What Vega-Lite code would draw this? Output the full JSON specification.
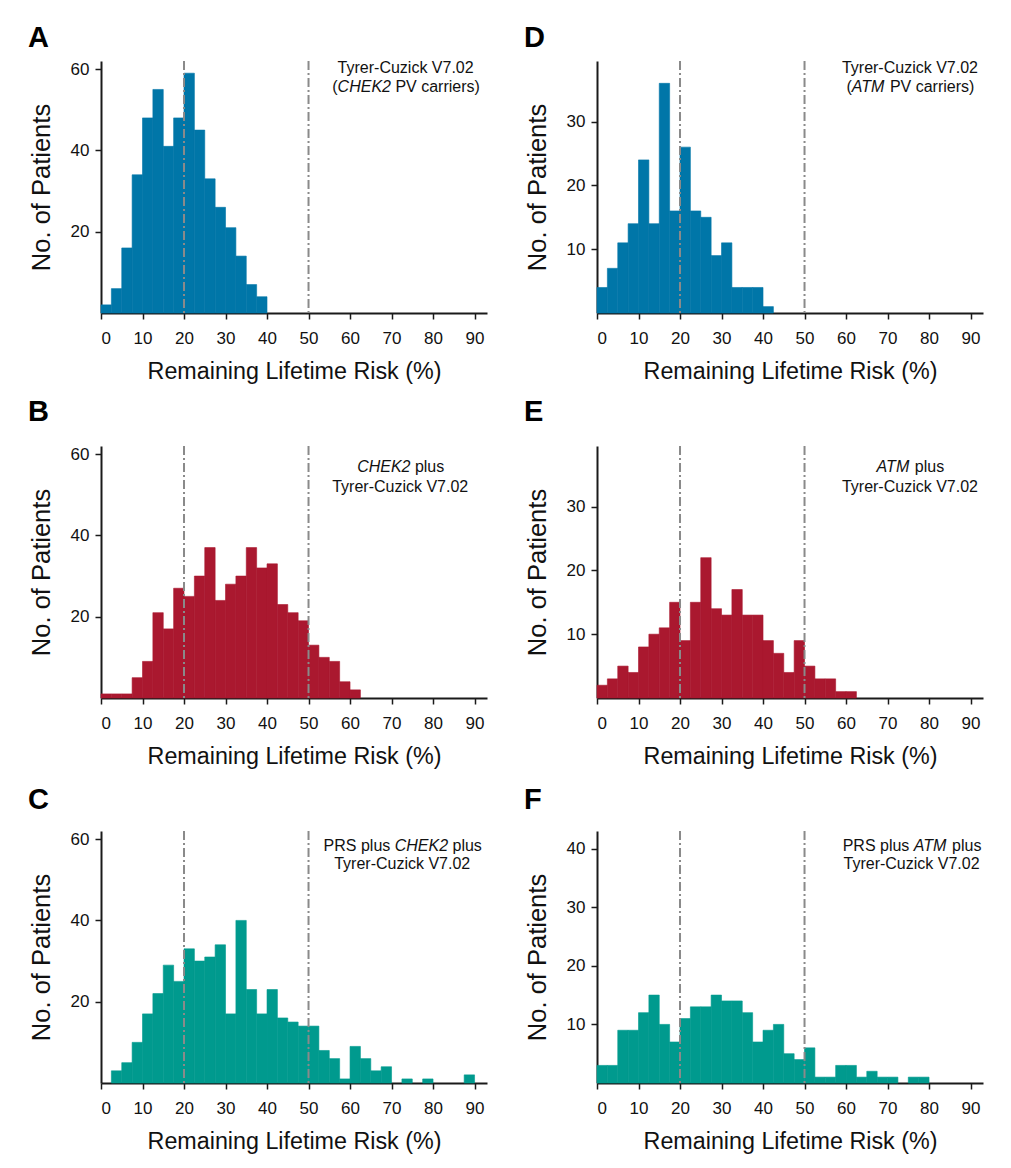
{
  "$schema": "https://vega.github.io/schema/vega-lite/v6.json",
  "padding": {"left": 28, "top": 23, "right": 5, "bottom": 5},
  "background": "white",
  "datasets": {
    "A": [
      {"lo": 0, "hi": 2.5, "n": 2}, {"lo": 2.5, "hi": 5, "n": 6}, {"lo": 5, "hi": 7.5, "n": 16}, {"lo": 7.5, "hi": 10, "n": 34},
      {"lo": 10, "hi": 12.5, "n": 48}, {"lo": 12.5, "hi": 15, "n": 55}, {"lo": 15, "hi": 17.5, "n": 41}, {"lo": 17.5, "hi": 20, "n": 48},
      {"lo": 20, "hi": 22.5, "n": 59}, {"lo": 22.5, "hi": 25, "n": 45}, {"lo": 25, "hi": 27.5, "n": 33}, {"lo": 27.5, "hi": 30, "n": 26},
      {"lo": 30, "hi": 32.5, "n": 21}, {"lo": 32.5, "hi": 35, "n": 14}, {"lo": 35, "hi": 37.5, "n": 7}, {"lo": 37.5, "hi": 40, "n": 4}
    ],
    "D": [
      {"lo": 0, "hi": 2.5, "n": 4}, {"lo": 2.5, "hi": 5, "n": 7}, {"lo": 5, "hi": 7.5, "n": 11}, {"lo": 7.5, "hi": 10, "n": 14},
      {"lo": 10, "hi": 12.5, "n": 24}, {"lo": 12.5, "hi": 15, "n": 14}, {"lo": 15, "hi": 17.5, "n": 36}, {"lo": 17.5, "hi": 20, "n": 16},
      {"lo": 20, "hi": 22.5, "n": 26}, {"lo": 22.5, "hi": 25, "n": 16}, {"lo": 25, "hi": 27.5, "n": 15}, {"lo": 27.5, "hi": 30, "n": 9},
      {"lo": 30, "hi": 32.5, "n": 11}, {"lo": 32.5, "hi": 35, "n": 4}, {"lo": 35, "hi": 37.5, "n": 4}, {"lo": 37.5, "hi": 40, "n": 4},
      {"lo": 40, "hi": 42.5, "n": 1}
    ],
    "B": [
      {"lo": 0, "hi": 2.5, "n": 1}, {"lo": 2.5, "hi": 5, "n": 1}, {"lo": 5, "hi": 7.5, "n": 1}, {"lo": 7.5, "hi": 10, "n": 5},
      {"lo": 10, "hi": 12.5, "n": 9}, {"lo": 12.5, "hi": 15, "n": 21}, {"lo": 15, "hi": 17.5, "n": 17}, {"lo": 17.5, "hi": 20, "n": 27},
      {"lo": 20, "hi": 22.5, "n": 25}, {"lo": 22.5, "hi": 25, "n": 30}, {"lo": 25, "hi": 27.5, "n": 37}, {"lo": 27.5, "hi": 30, "n": 24},
      {"lo": 30, "hi": 32.5, "n": 28}, {"lo": 32.5, "hi": 35, "n": 30}, {"lo": 35, "hi": 37.5, "n": 37}, {"lo": 37.5, "hi": 40, "n": 32},
      {"lo": 40, "hi": 42.5, "n": 33}, {"lo": 42.5, "hi": 45, "n": 23}, {"lo": 45, "hi": 47.5, "n": 21}, {"lo": 47.5, "hi": 50, "n": 19},
      {"lo": 50, "hi": 52.5, "n": 13}, {"lo": 52.5, "hi": 55, "n": 10}, {"lo": 55, "hi": 57.5, "n": 9}, {"lo": 57.5, "hi": 60, "n": 4},
      {"lo": 60, "hi": 62.5, "n": 2}
    ],
    "E": [
      {"lo": 0, "hi": 2.5, "n": 2}, {"lo": 2.5, "hi": 5, "n": 3}, {"lo": 5, "hi": 7.5, "n": 5}, {"lo": 7.5, "hi": 10, "n": 4},
      {"lo": 10, "hi": 12.5, "n": 8}, {"lo": 12.5, "hi": 15, "n": 10}, {"lo": 15, "hi": 17.5, "n": 11}, {"lo": 17.5, "hi": 20, "n": 15},
      {"lo": 20, "hi": 22.5, "n": 9}, {"lo": 22.5, "hi": 25, "n": 15}, {"lo": 25, "hi": 27.5, "n": 22}, {"lo": 27.5, "hi": 30, "n": 14},
      {"lo": 30, "hi": 32.5, "n": 13}, {"lo": 32.5, "hi": 35, "n": 17}, {"lo": 35, "hi": 37.5, "n": 13}, {"lo": 37.5, "hi": 40, "n": 13},
      {"lo": 40, "hi": 42.5, "n": 9}, {"lo": 42.5, "hi": 45, "n": 7}, {"lo": 45, "hi": 47.5, "n": 4}, {"lo": 47.5, "hi": 50, "n": 9},
      {"lo": 50, "hi": 52.5, "n": 5}, {"lo": 52.5, "hi": 55, "n": 3}, {"lo": 55, "hi": 57.5, "n": 3}, {"lo": 57.5, "hi": 60, "n": 1},
      {"lo": 60, "hi": 62.5, "n": 1}
    ],
    "C": [
      {"lo": 2.5, "hi": 5, "n": 3}, {"lo": 5, "hi": 7.5, "n": 5}, {"lo": 7.5, "hi": 10, "n": 10},
      {"lo": 10, "hi": 12.5, "n": 17}, {"lo": 12.5, "hi": 15, "n": 22}, {"lo": 15, "hi": 17.5, "n": 29}, {"lo": 17.5, "hi": 20, "n": 25},
      {"lo": 20, "hi": 22.5, "n": 33}, {"lo": 22.5, "hi": 25, "n": 30}, {"lo": 25, "hi": 27.5, "n": 31}, {"lo": 27.5, "hi": 30, "n": 34},
      {"lo": 30, "hi": 32.5, "n": 17}, {"lo": 32.5, "hi": 35, "n": 40}, {"lo": 35, "hi": 37.5, "n": 23}, {"lo": 37.5, "hi": 40, "n": 17},
      {"lo": 40, "hi": 42.5, "n": 23}, {"lo": 42.5, "hi": 45, "n": 16}, {"lo": 45, "hi": 47.5, "n": 15}, {"lo": 47.5, "hi": 50, "n": 14},
      {"lo": 50, "hi": 52.5, "n": 14}, {"lo": 52.5, "hi": 55, "n": 8}, {"lo": 55, "hi": 57.5, "n": 6}, {"lo": 57.5, "hi": 60, "n": 1},
      {"lo": 60, "hi": 62.5, "n": 9}, {"lo": 62.5, "hi": 65, "n": 6}, {"lo": 65, "hi": 67.5, "n": 3}, {"lo": 67.5, "hi": 70, "n": 4},
      {"lo": 72.5, "hi": 75, "n": 1}, {"lo": 77.5, "hi": 80, "n": 1}, {"lo": 87.5, "hi": 90, "n": 2}
    ],
    "F": [
      {"lo": 0, "hi": 2.5, "n": 3}, {"lo": 2.5, "hi": 5, "n": 3}, {"lo": 5, "hi": 7.5, "n": 9}, {"lo": 7.5, "hi": 10, "n": 9},
      {"lo": 10, "hi": 12.5, "n": 12}, {"lo": 12.5, "hi": 15, "n": 15}, {"lo": 15, "hi": 17.5, "n": 10}, {"lo": 17.5, "hi": 20, "n": 7},
      {"lo": 20, "hi": 22.5, "n": 11}, {"lo": 22.5, "hi": 25, "n": 13}, {"lo": 25, "hi": 27.5, "n": 13}, {"lo": 27.5, "hi": 30, "n": 15},
      {"lo": 30, "hi": 32.5, "n": 14}, {"lo": 32.5, "hi": 35, "n": 14}, {"lo": 35, "hi": 37.5, "n": 12}, {"lo": 37.5, "hi": 40, "n": 7},
      {"lo": 40, "hi": 42.5, "n": 9}, {"lo": 42.5, "hi": 45, "n": 10}, {"lo": 45, "hi": 47.5, "n": 5}, {"lo": 47.5, "hi": 50, "n": 4},
      {"lo": 50, "hi": 52.5, "n": 6}, {"lo": 52.5, "hi": 55, "n": 1}, {"lo": 55, "hi": 57.5, "n": 1}, {"lo": 57.5, "hi": 60, "n": 3},
      {"lo": 60, "hi": 62.5, "n": 3}, {"lo": 62.5, "hi": 65, "n": 1}, {"lo": 65, "hi": 67.5, "n": 2}, {"lo": 67.5, "hi": 70, "n": 1},
      {"lo": 70, "hi": 72.5, "n": 1}, {"lo": 75, "hi": 77.5, "n": 1}, {"lo": 77.5, "hi": 80, "n": 1}
    ],
    "cut": [{"v": 20}, {"v": 50}],
    "A_t": [{"x": 57.01, "y": 60.3, "t": "Tyrer-Cuzick V7.02"}, {"x": 55.73, "y": 55.6, "t": "("}, {"x": 70.93, "y": 55.6, "t": "PV carriers)"}],
    "A_i": [{"x": 57.01, "y": 55.6, "t": "CHEK2"}],
    "B_t": [{"x": 75.63, "y": 56.8, "t": "plus"}, {"x": 55.71, "y": 51.9, "t": "Tyrer-Cuzick V7.02"}],
    "B_i": [{"x": 61.71, "y": 56.8, "t": "CHEK2"}],
    "C_t": [{"x": 53.63, "y": 58.3, "t": "PRS plus"}, {"x": 84.69, "y": 58.3, "t": "plus"}, {"x": 56.19, "y": 53.9, "t": "Tyrer-Cuzick V7.02"}],
    "C_i": [{"x": 70.77, "y": 58.3, "t": "CHEK2"}],
    "D_t": [{"x": 59.01, "y": 38.4, "t": "Tyrer-Cuzick V7.02"}, {"x": 60.09, "y": 35.4, "t": "("}, {"x": 70.57, "y": 35.4, "t": "PV carriers)"}],
    "D_i": [{"x": 61.37, "y": 35.4, "t": "ATM"}],
    "E_t": [{"x": 76.58, "y": 36.2, "t": "plus"}, {"x": 59.01, "y": 33.1, "t": "Tyrer-Cuzick V7.02"}],
    "E_i": [{"x": 67.37, "y": 36.2, "t": "ATM"}],
    "F_t": [{"x": 59.19, "y": 40.4, "t": "PRS plus"}, {"x": 85.54, "y": 40.4, "t": "plus"}, {"x": 59.40, "y": 37.4, "t": "Tyrer-Cuzick V7.02"}],
    "F_i": [{"x": 76.34, "y": 40.4, "t": "ATM"}]
  },
  "spacing": 15,
  "vconcat": [
    {
      "spacing": 37,
      "hconcat": [
        {
          "width": 386, "height": 252, "title": {"text": "A", "offset": 7},
          "layer": [
            {"data": {"name": "A"}, "mark": {"type": "bar", "color": "#0076A8", "stroke": "#0076A8", "strokeWidth": 0.6, "opacity": 1},
             "encoding": {
               "x": {"field": "lo", "type": "quantitative", "scale": {"domain": [0, 93], "nice": false}, "axis": {"values": [0,10,20,30,40,50,60,70,80,90], "title": "Remaining Lifetime Risk (%)"}},
               "x2": {"field": "hi"},
               "y": {"field": "n", "type": "quantitative", "scale": {"domain": [0, 62], "nice": false}, "axis": {"values": [20,40,60], "title": "No. of Patients"}},
               "y2": {"datum": 0}}},
            {"data": {"name": "cut"}, "mark": {"type": "rule", "color": "#8a8a8a", "strokeWidth": 2, "strokeDash": [9,3,2,3]}, "encoding": {"x": {"field": "v", "type": "quantitative"}}},
            {"data": {"name": "A_t"}, "mark": {"type": "text", "align": "left", "baseline": "middle"}, "encoding": {"x": {"field": "x", "type": "quantitative"}, "y": {"field": "y", "type": "quantitative"}, "text": {"field": "t"}}},
            {"data": {"name": "A_i"}, "mark": {"type": "text", "align": "left", "baseline": "middle", "fontStyle": "italic"}, "encoding": {"x": {"field": "x", "type": "quantitative"}, "y": {"field": "y", "type": "quantitative"}, "text": {"field": "t"}}}
          ]
        },
        {
          "width": 386, "height": 252, "title": {"text": "D", "offset": 7},
          "layer": [
            {"data": {"name": "D"}, "mark": {"type": "bar", "color": "#0076A8", "stroke": "#0076A8", "strokeWidth": 0.6, "opacity": 1},
             "encoding": {
               "x": {"field": "lo", "type": "quantitative", "scale": {"domain": [0, 93], "nice": false}, "axis": {"values": [0,10,20,30,40,50,60,70,80,90], "title": "Remaining Lifetime Risk (%)"}},
               "x2": {"field": "hi"},
               "y": {"field": "n", "type": "quantitative", "scale": {"domain": [0, 39.5], "nice": false}, "axis": {"values": [10,20,30], "title": "No. of Patients"}},
               "y2": {"datum": 0}}},
            {"data": {"name": "cut"}, "mark": {"type": "rule", "color": "#8a8a8a", "strokeWidth": 2, "strokeDash": [9,3,2,3]}, "encoding": {"x": {"field": "v", "type": "quantitative"}}},
            {"data": {"name": "D_t"}, "mark": {"type": "text", "align": "left", "baseline": "middle"}, "encoding": {"x": {"field": "x", "type": "quantitative"}, "y": {"field": "y", "type": "quantitative"}, "text": {"field": "t"}}},
            {"data": {"name": "D_i"}, "mark": {"type": "text", "align": "left", "baseline": "middle", "fontStyle": "italic"}, "encoding": {"x": {"field": "x", "type": "quantitative"}, "y": {"field": "y", "type": "quantitative"}, "text": {"field": "t"}}}
          ]
        }
      ]
    },
    {
      "spacing": 18,
      "vconcat": [
        {
          "spacing": 37,
          "hconcat": [
            {
              "width": 386, "height": 252, "title": {"text": "B", "offset": 18},
              "layer": [
                {"data": {"name": "B"}, "mark": {"type": "bar", "color": "#AA182F", "stroke": "#AA182F", "strokeWidth": 0.6, "opacity": 1},
                 "encoding": {
                   "x": {"field": "lo", "type": "quantitative", "scale": {"domain": [0, 93], "nice": false}, "axis": {"values": [0,10,20,30,40,50,60,70,80,90], "title": "Remaining Lifetime Risk (%)"}},
                   "x2": {"field": "hi"},
                   "y": {"field": "n", "type": "quantitative", "scale": {"domain": [0, 62], "nice": false}, "axis": {"values": [20,40,60], "title": "No. of Patients"}},
                   "y2": {"datum": 0}}},
                {"data": {"name": "cut"}, "mark": {"type": "rule", "color": "#8a8a8a", "strokeWidth": 2, "strokeDash": [9,3,2,3]}, "encoding": {"x": {"field": "v", "type": "quantitative"}}},
                {"data": {"name": "B_t"}, "mark": {"type": "text", "align": "left", "baseline": "middle"}, "encoding": {"x": {"field": "x", "type": "quantitative"}, "y": {"field": "y", "type": "quantitative"}, "text": {"field": "t"}}},
                {"data": {"name": "B_i"}, "mark": {"type": "text", "align": "left", "baseline": "middle", "fontStyle": "italic"}, "encoding": {"x": {"field": "x", "type": "quantitative"}, "y": {"field": "y", "type": "quantitative"}, "text": {"field": "t"}}}
              ]
            },
            {
              "width": 386, "height": 252, "title": {"text": "E", "offset": 18},
              "layer": [
                {"data": {"name": "E"}, "mark": {"type": "bar", "color": "#AA182F", "stroke": "#AA182F", "strokeWidth": 0.6, "opacity": 1},
                 "encoding": {
                   "x": {"field": "lo", "type": "quantitative", "scale": {"domain": [0, 93], "nice": false}, "axis": {"values": [0,10,20,30,40,50,60,70,80,90], "title": "Remaining Lifetime Risk (%)"}},
                   "x2": {"field": "hi"},
                   "y": {"field": "n", "type": "quantitative", "scale": {"domain": [0, 39.5], "nice": false}, "axis": {"values": [10,20,30], "title": "No. of Patients"}},
                   "y2": {"datum": 0}}},
                {"data": {"name": "cut"}, "mark": {"type": "rule", "color": "#8a8a8a", "strokeWidth": 2, "strokeDash": [9,3,2,3]}, "encoding": {"x": {"field": "v", "type": "quantitative"}}},
                {"data": {"name": "E_t"}, "mark": {"type": "text", "align": "left", "baseline": "middle"}, "encoding": {"x": {"field": "x", "type": "quantitative"}, "y": {"field": "y", "type": "quantitative"}, "text": {"field": "t"}}},
                {"data": {"name": "E_i"}, "mark": {"type": "text", "align": "left", "baseline": "middle", "fontStyle": "italic"}, "encoding": {"x": {"field": "x", "type": "quantitative"}, "y": {"field": "y", "type": "quantitative"}, "text": {"field": "t"}}}
              ]
            }
          ]
        },
        {
          "spacing": 37,
          "hconcat": [
            {
              "width": 386, "height": 252, "title": {"text": "C", "offset": 15},
              "layer": [
                {"data": {"name": "C"}, "mark": {"type": "bar", "color": "#009A8E", "stroke": "#009A8E", "strokeWidth": 0.6, "opacity": 1},
                 "encoding": {
                   "x": {"field": "lo", "type": "quantitative", "scale": {"domain": [0, 93], "nice": false}, "axis": {"values": [0,10,20,30,40,50,60,70,80,90], "title": "Remaining Lifetime Risk (%)"}},
                   "x2": {"field": "hi"},
                   "y": {"field": "n", "type": "quantitative", "scale": {"domain": [0, 62], "nice": false}, "axis": {"values": [20,40,60], "title": "No. of Patients"}},
                   "y2": {"datum": 0}}},
                {"data": {"name": "cut"}, "mark": {"type": "rule", "color": "#8a8a8a", "strokeWidth": 2, "strokeDash": [9,3,2,3]}, "encoding": {"x": {"field": "v", "type": "quantitative"}}},
                {"data": {"name": "C_t"}, "mark": {"type": "text", "align": "left", "baseline": "middle"}, "encoding": {"x": {"field": "x", "type": "quantitative"}, "y": {"field": "y", "type": "quantitative"}, "text": {"field": "t"}}},
                {"data": {"name": "C_i"}, "mark": {"type": "text", "align": "left", "baseline": "middle", "fontStyle": "italic"}, "encoding": {"x": {"field": "x", "type": "quantitative"}, "y": {"field": "y", "type": "quantitative"}, "text": {"field": "t"}}}
              ]
            },
            {
              "width": 386, "height": 252, "title": {"text": "F", "offset": 15},
              "layer": [
                {"data": {"name": "F"}, "mark": {"type": "bar", "color": "#009A8E", "stroke": "#009A8E", "strokeWidth": 0.6, "opacity": 1},
                 "encoding": {
                   "x": {"field": "lo", "type": "quantitative", "scale": {"domain": [0, 93], "nice": false}, "axis": {"values": [0,10,20,30,40,50,60,70,80,90], "title": "Remaining Lifetime Risk (%)"}},
                   "x2": {"field": "hi"},
                   "y": {"field": "n", "type": "quantitative", "scale": {"domain": [0, 43], "nice": false}, "axis": {"values": [10,20,30,40], "title": "No. of Patients"}},
                   "y2": {"datum": 0}}},
                {"data": {"name": "cut"}, "mark": {"type": "rule", "color": "#8a8a8a", "strokeWidth": 2, "strokeDash": [9,3,2,3]}, "encoding": {"x": {"field": "v", "type": "quantitative"}}},
                {"data": {"name": "F_t"}, "mark": {"type": "text", "align": "left", "baseline": "middle"}, "encoding": {"x": {"field": "x", "type": "quantitative"}, "y": {"field": "y", "type": "quantitative"}, "text": {"field": "t"}}},
                {"data": {"name": "F_i"}, "mark": {"type": "text", "align": "left", "baseline": "middle", "fontStyle": "italic"}, "encoding": {"x": {"field": "x", "type": "quantitative"}, "y": {"field": "y", "type": "quantitative"}, "text": {"field": "t"}}}
              ]
            }
          ]
        }
      ]
    }
  ],
  "config": {
    "font": "Liberation Sans",
    "view": {"stroke": null},
    "axis": {"grid": false, "domainColor": "#1a1a1a", "domainWidth": 2, "tickColor": "#1a1a1a", "tickWidth": 1.5, "tickSize": 6,
             "labelFontSize": 17, "labelColor": "#111", "titleFontWeight": "normal", "titleColor": "#111",
             "labelFont": "Liberation Sans", "titleFont": "Liberation Sans"},
    "axisX": {"titleFontSize": 23.3, "labelPadding": 11.5, "titlePadding": 13.5},
    "axisY": {"titleFontSize": 25.5, "labelPadding": 6, "titlePadding": 16},
    "title": {"anchor": "start", "frame": "group", "fontSize": 29, "fontWeight": "bold", "color": "#000", "dx": -73},
    "text": {"font": "Liberation Sans", "fontSize": 16, "color": "#111"}
  }
}
